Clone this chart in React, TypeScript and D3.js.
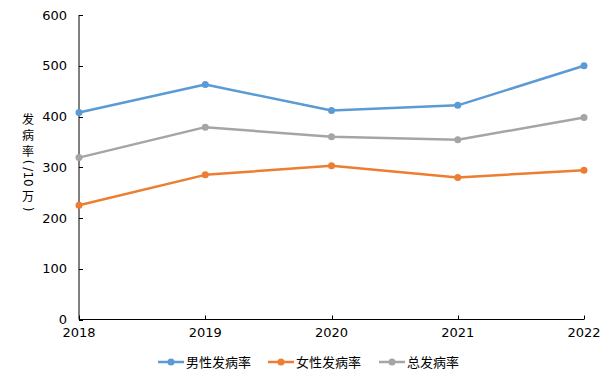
import React from "react";
import * as d3 from "d3";

const years = ["2018", "2019", "2020", "2021", "2022"];
const male = [408, 463, 412, 422, 500];
const female = [225, 285, 303, 280, 294];
const total = [319, 379, 360, 354, 398];
const yTicks = [0, 100, 200, 300, 400, 500, 600];
const seriesNames = ["男性发病率", "女性发病率", "总发病率"];
const seriesColors = ["#5B9BD5", "#ED7D31", "#A5A5A5"];
const yLabelParts = [
  { t: "发", rot: false, y: 119 },
  { t: "病", rot: false, y: 135 },
  { t: "率", rot: false, y: 151 },
  { t: "(", rot: true, y: 162 },
  { t: "/10", rot: true, y: 177 },
  { t: "万", rot: false, y: 196 },
  { t: ")", rot: true, y: 209 },
];

const W = 616;
const H = 382;
const left = 79;
const right = 584;
const top = 15;
const bottom = 319.5;

export default function App() {
  const x = d3.scalePoint<string>().domain(years).range([left, right]);
  const y = d3.scaleLinear().domain([0, 600]).range([bottom, top]);
  const line = d3
    .line<number>()
    .x((_, i) => x(years[i]) as number)
    .y((d) => y(d));
  const series = [male, female, total];
  const font = "'DejaVu Sans', 'Noto Sans CJK SC', sans-serif";
  const legendX = [158, 268, 379];
  const labelX = 28;

  return (
    <svg
      width={W}
      height={H}
      style={{ position: "absolute", left: 0, top: 0, background: "#fff" }}
      fontFamily={font}
    >
      {/* axes */}
      <line x1={left} x2={left} y1={top} y2={bottom} stroke="#000" strokeWidth={1} />
      <line x1={left} x2={right} y1={bottom} y2={bottom} stroke="#000" strokeWidth={1} />
      {yTicks.map((t) => (
        <g key={t}>
          <line x1={left} x2={left + 4} y1={Math.round(y(t)) + 0.5} y2={Math.round(y(t)) + 0.5} stroke="#000" />
          <text x={67} y={y(t)} dy="0.36em" textAnchor="end" fontSize={13} fill="#000">
            {t}
          </text>
        </g>
      ))}
      {years.map((yr) => (
        <g key={yr}>
          <line
            x1={Math.round(x(yr) as number) + 0.5}
            x2={Math.round(x(yr) as number) + 0.5}
            y1={bottom}
            y2={bottom - 4}
            stroke="#000"
          />
          <text x={x(yr) as number} y={337} textAnchor="middle" fontSize={13} fill="#000">
            {yr}
          </text>
        </g>
      ))}
      {/* y label */}
      {yLabelParts.map((p, i) =>
        p.rot ? (
          <text
            key={i}
            transform={`translate(${labelX},${p.y}) rotate(90)`}
            textAnchor="middle"
            dy="0.36em"
            fontSize={12}
            fill="#000"
          >
            {p.t}
          </text>
        ) : (
          <text
            key={i}
            x={labelX}
            y={p.y}
            textAnchor="middle"
            dy="0.38em"
            fontSize={12}
            fill="#000"
            fontFamily="'Noto Sans CJK SC', sans-serif"
          >
            {p.t}
          </text>
        )
      )}
      {/* series */}
      {series.map((s, si) => (
        <g key={si}>
          <path d={line(s) as string} fill="none" stroke={seriesColors[si]} strokeWidth={2.5} strokeLinejoin="round" />
          {s.map((v, i) => (
            <circle key={i} cx={x(years[i]) as number} cy={y(v)} r={3.5} fill={seriesColors[si]} />
          ))}
        </g>
      ))}
      {/* legend */}
      {seriesNames.map((n, i) => (
        <g key={n}>
          <line x1={legendX[i]} x2={legendX[i] + 26} y1={362} y2={362} stroke={seriesColors[i]} strokeWidth={2.5} />
          <circle cx={legendX[i] + 13} cy={362} r={3.5} fill={seriesColors[i]} />
          <text
            x={legendX[i] + 28}
            y={362}
            dy="0.36em"
            fontSize={13}
            fill="#000"
            fontFamily="'Noto Sans CJK SC', sans-serif"
          >
            {n}
          </text>
        </g>
      ))}
    </svg>
  );
}
